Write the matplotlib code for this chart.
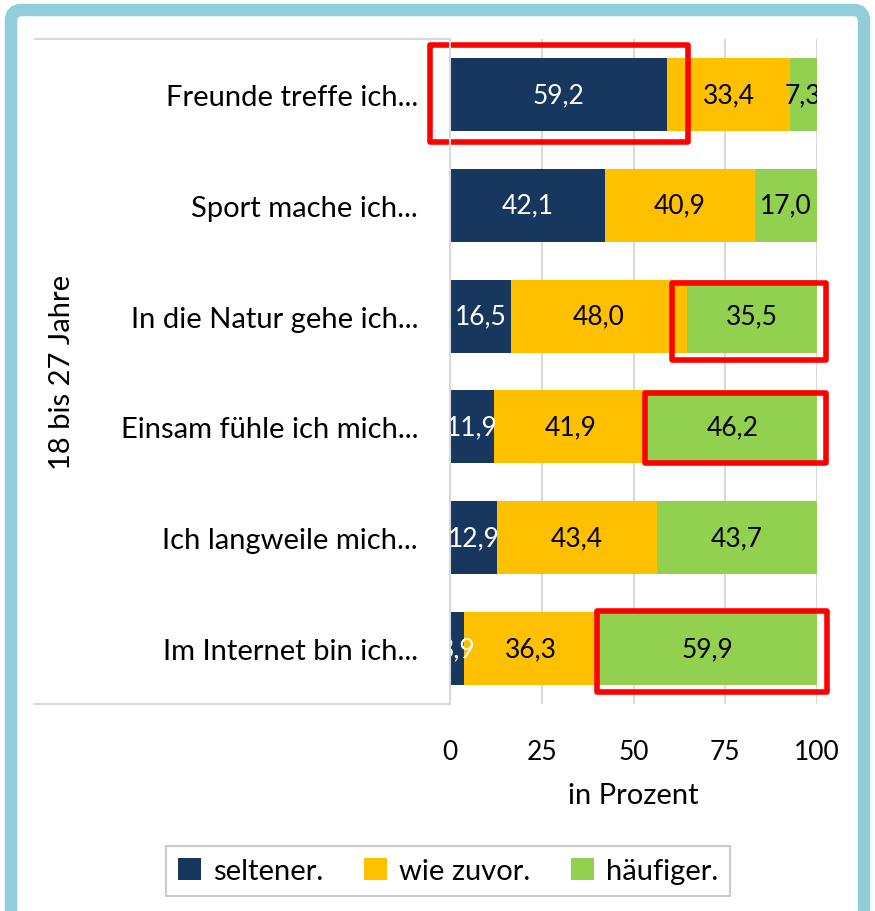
import matplotlib
matplotlib.use('Agg')
import matplotlib.pyplot as plt
import numpy as np
from matplotlib.patches import Rectangle, FancyBboxPatch
from matplotlib.lines import Line2D

plt.rcParams['font.family'] = ['Lato', 'DejaVu Sans']

# Daten
categories = ['Freunde treffe ich...', 'Sport mache ich...', 'In die Natur gehe ich...',
              'Einsam fühle ich mich...', 'Ich langweile mich...', 'Im Internet bin ich...']
seltener = [59.2, 42.1, 16.5, 11.9, 12.9, 3.9]
wie_zuvor = [33.4, 40.9, 48.0, 41.9, 43.4, 36.3]
haeufiger = [7.3, 17.0, 35.5, 46.2, 43.7, 59.9]
series_names = ['seltener.', 'wie zuvor.', 'häufiger.']
colors = ['#17375E', '#FFC000', '#92D050']
text_colors = ['white', 'black', 'black']
xticks = [0, 25, 50, 75, 100]

# hervorgehobene Segmente: (Zeile, Serie, Rand links, Rand rechts, oben, unten)
highlights = [(0, 0, 5.4, 5.7, 0.45, 0.43), (2, 2, 4.0, 2.5, 0.30, 0.40),
              (3, 2, 0.7, 2.5, 0.31, 0.33), (5, 2, 0.1, 2.5, 0.34, 0.39)]

W, H = 875, 912
fig = plt.figure(figsize=(W / 100, H / 100), dpi=100)
ax = fig.add_axes([450 / W, 1 - 705 / H, 367 / W, 665 / H])

y = np.arange(len(categories))
data = [seltener, wie_zuvor, haeufiger]
left = np.zeros(len(categories))
starts = []
for vals, name, col, tcol in zip(data, series_names, colors, text_colors):
    vals = np.array(vals)
    ax.barh(y, vals, left=left, height=0.66, color=col, label=name, zorder=3)
    for yi, (l, v) in enumerate(zip(left, vals)):
        ax.text(l + v / 2, yi, f'{v:.1f}'.replace('.', ','), ha='center', va='center',
                color=tcol, fontsize=19, zorder=4, clip_on=True)
    starts.append(left.copy())
    left = left + vals

ax.set_xlim(0, 100)
ax.set_ylim(len(categories) - 0.5, -0.5)
ax.set_xticks(xticks)
ax.set_xticklabels([str(t) for t in xticks], fontsize=19)
ax.set_yticks(y)
ax.set_yticklabels(categories, fontsize=21)
ax.tick_params(axis='both', length=0)
ax.tick_params(axis='x', pad=25)
ax.tick_params(axis='y', pad=23)
ax.set_xlabel('in Prozent', fontsize=21, labelpad=13)
for s in ax.spines.values():
    s.set_visible(False)
ax.xaxis.grid(True, color='#d9d9d9', linewidth=1.5, zorder=0)

# rote Markierungen
for row, ser, pl, pr, pt, pb in highlights:
    x0 = starts[ser][row] - pl
    x1 = starts[ser][row] + data[ser][row] + pr
    ax.add_patch(Rectangle((x0, row - pt), x1 - x0, pt + pb, fill=False,
                           edgecolor='#ff0000', linewidth=4, zorder=6, clip_on=False,
                           joinstyle='round'))

# Tabellenlinien links
lc = '#d9d9d9'
fig.add_artist(Line2D([35 / W, 450 / W], [1 - 40 / H, 1 - 40 / H], color=lc, lw=1.5))
fig.add_artist(Line2D([35 / W, 450 / W], [1 - 705 / H, 1 - 705 / H], color=lc, lw=1.5))
fig.add_artist(Line2D([450 / W, 450 / W], [1 - 40 / H, 1 - 705 / H], color=lc, lw=1.5))

fig.text(62 / W, 1 - 372 / H, '18 bis 27 Jahre', rotation=90, ha='center', va='center',
         fontsize=21)

# Legende
leg = fig.legend(loc='center', bbox_to_anchor=(448 / W, 1 - 872 / H), ncol=3,
                 fontsize=21, frameon=True, fancybox=False, edgecolor='#bfbfbf',
                 handlelength=0.8, handleheight=0.8, handletextpad=0.4,
                 columnspacing=1.4, borderpad=0.4)
leg.get_frame().set_linewidth(1.5)

# blauer Rahmen
fig.add_artist(FancyBboxPatch((11 / W, -10 / H), 853 / W, (H - 1) / H,
                              boxstyle='round,pad=0,rounding_size=0.012',
                              transform=fig.transFigure, fill=False,
                              edgecolor='#92CDDC', linewidth=9))

fig.savefig('out.png', dpi=100)
